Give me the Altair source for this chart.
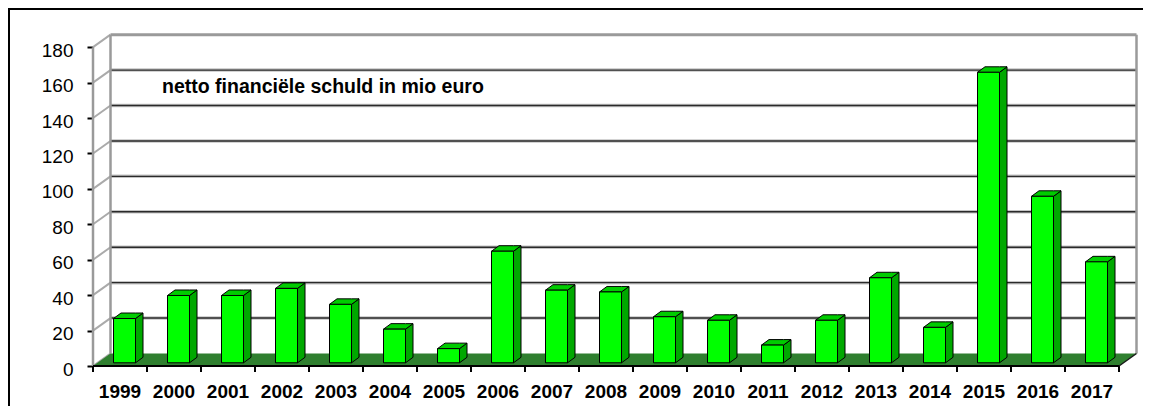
import altair as alt
import pandas as pd

# ---------------- data ----------------
years = ["1999", "2000", "2001", "2002", "2003", "2004", "2005", "2006", "2007", "2008",
         "2009", "2010", "2011", "2012", "2013", "2014", "2015", "2016", "2017"]
values = [25, 38, 38, 42, 33, 19, 8, 63, 41, 40, 26, 24, 10, 24, 48, 20, 164, 94, 57]
y_ticks = [0, 20, 40, 60, 80, 100, 120, 140, 160, 180]
title_text = "netto financiële schuld in mio euro"

# ---------------- geometry (pixels -> data units) ----------------
W, H = 1044, 333
PX_X = 54.0                 # pixels per category band
YMAX = 188.0
PX_Y = H / YMAX
n = len(years)
XMAX = W / PX_X

DX = 17.5 / PX_X            # wall depth
DY = 12.5 / PX_Y
BAR_OFF = 20.5 / PX_X
BAR_W = 22.0 / PX_X
BAR_BASE = 3.2 / PX_Y
BAR_DX = 7.5 / PX_X
BAR_DY = 5.5 / PX_Y

FONT = "Liberation Sans"

xs = alt.Scale(domain=[0, XMAX], nice=False, zero=False)
ys = alt.Scale(domain=[0, YMAX], nice=False, zero=False)

Y_AXIS = alt.Axis(values=y_ticks, title=None, domain=False, grid=False,
                  tickColor="black", tickWidth=2, tickSize=6,
                  labelFont=FONT, labelFontSize=19, labelColor="black",
                  labelPadding=14, labelOffset=3)

def X(f):
    return alt.X(f, type="quantitative", scale=xs, axis=None)

def Y(f):
    return alt.Y(f, type="quantitative", scale=ys, axis=Y_AXIS)

# ---------------- derived tables ----------------
bars = pd.DataFrame({"year": years, "idx": list(range(n)), "value": values})
bars["x0"] = bars["idx"] + BAR_OFF
bars["x1"] = bars["x0"] + BAR_W
bars["b"] = BAR_BASE
bars["t"] = BAR_BASE + bars["value"]
bars["xc"] = bars["idx"] + 0.5

side_rows, top_rows = [], []
for _, r in bars.iterrows():
    for k in range(2):
        side_rows.append({"year": r["year"], "x": r["x1"] + k * BAR_DX,
                          "lo": r["b"] + k * BAR_DY, "hi": r["t"] + k * BAR_DY})
    for dxk, lo, hi in [(0, 0, 0), (BAR_DX, 0, BAR_DY), (BAR_W, 0, BAR_DY), (BAR_W + BAR_DX, BAR_DY, BAR_DY)]:
        top_rows.append({"year": r["year"], "x": r["x0"] + dxk,
                         "lo": r["t"] + lo, "hi": r["t"] + hi})
side = pd.DataFrame(side_rows)
top = pd.DataFrame(top_rows)

floor = pd.DataFrame({"x": [0, DX, n, n + DX], "lo": [0, 0, 0, DY], "hi": [0, DY, DY, DY]})

grid = pd.DataFrame({"v": y_ticks})
grid["vb"] = grid["v"] + DY
grid["x0"] = 0.0
grid["xb"] = DX
grid["xe"] = n + DX
inner = grid[(grid["v"] > 0) & (grid["v"] < 180)]
topline = grid[grid["v"] == 180]

edges = pd.DataFrame({"x": [0.0, DX, n + DX], "y0": [0.0, DY, DY], "y1": [180.0, 180 + DY, 180 + DY]})
bounds = pd.DataFrame({"x": list(range(n + 1))})
right_edge = pd.DataFrame({"x": [float(n)], "x2": [n + DX], "y": [0.0], "y2": [DY]})
base = pd.DataFrame({"x": [0.0], "x2": [float(n)], "y": [0.0]})

# ---------------- layers ----------------
left_wall = alt.Chart(grid).mark_rule(color="#aaaaaa", strokeWidth=2).encode(
    x=X("x0"), x2="xb", y=Y("v"), y2="vb")

grid_shadow = alt.Chart(inner).mark_rule(color="#c4c4c4", strokeWidth=3.5).encode(
    x=X("xb"), x2="xe", y=Y("vb"))
grid_lines = alt.Chart(inner).mark_rule(color="#2a2a2a", strokeWidth=1.4).encode(
    x=X("xb"), x2="xe", y=Y("vb"))
top_line = alt.Chart(topline).mark_rule(color="#9a9a9a", strokeWidth=3).encode(
    x=X("xb"), x2="xe", y=Y("vb"))

wall_edges = alt.Chart(edges).mark_rule(color="#9a9a9a", strokeWidth=2.5).encode(
    x=X("x"), y=Y("y0"), y2="y1")

floor_area = alt.Chart(floor).mark_area(color="#2f7f2f", interpolate="linear").encode(
    x=X("x"), y=Y("lo"), y2="hi")

side_faces = alt.Chart(side).mark_area(color="#00a800", stroke="black", strokeWidth=1).encode(
    x=X("x"), y=Y("lo"), y2="hi", detail="year:N")
top_faces = alt.Chart(top).mark_area(color="#00cc00", stroke="black", strokeWidth=1).encode(
    x=X("x"), y=Y("lo"), y2="hi", detail="year:N")
front_faces = alt.Chart(bars).mark_rect(color="#00ff00", stroke="black", strokeWidth=1).encode(
    x=X("x0"), x2="x1", y=Y("b"), y2="t")

base_line = alt.Chart(base).mark_rule(color="black", strokeWidth=2).encode(
    x=X("x"), x2="x2", y=Y("y"))
ticks = alt.Chart(bounds).mark_rule(color="black", strokeWidth=2).encode(
    x=X("x"), y=alt.value(H), y2=alt.value(H + 6))
right_floor = alt.Chart(right_edge).mark_rule(color="#1a1a1a", strokeWidth=1.5).encode(
    x=X("x"), x2="x2", y=Y("y"), y2="y2")

year_labels = alt.Chart(bars).mark_text(font=FONT, fontSize=19, fontWeight="bold",
                                        color="black", baseline="middle", align="center").encode(
    x=X("xc"), y=alt.value(H + 25.7), text="year:N")

title = alt.Chart(pd.DataFrame({"t": [title_text]})).mark_text(
    font=FONT, fontSize=19.5, fontWeight="bold", color="black", align="left", baseline="alphabetic"
).encode(x=alt.value(69), y=alt.value(60), text="t:N")

frame_top = alt.Chart(pd.DataFrame({"k": [0]})).mark_rule(color="black", strokeWidth=2).encode(
    x=alt.value(-85), x2=alt.value(W + 10), y=alt.value(-24))
frame_left = alt.Chart(pd.DataFrame({"k": [0]})).mark_rule(color="black", strokeWidth=2).encode(
    x=alt.value(-84), y=alt.value(-25), y2=alt.value(H + 40))

chart = alt.layer(
    left_wall, grid_shadow, grid_lines, top_line, wall_edges, floor_area,
    side_faces, top_faces, front_faces, base_line, ticks, right_floor,
    year_labels, title, frame_top, frame_left
).properties(
    width=W, height=H,
    autosize=alt.AutoSizeParams(type="none"),
    padding={"left": 85, "top": 25, "right": 6, "bottom": 40},
    background="white",
).configure_view(stroke=None)

chart.save("out.html", embed_options={"renderer": "svg", "actions": False})
